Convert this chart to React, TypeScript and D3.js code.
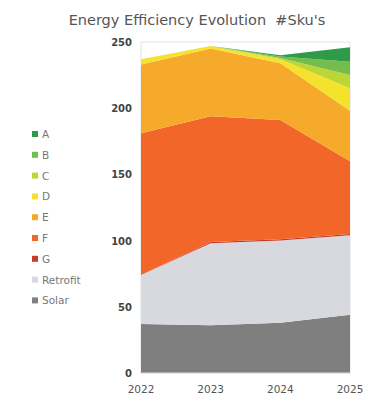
import React from "react";
import * as d3 from "d3";

const years = ["2022", "2023", "2024", "2025"];
const seriesNames = ["Solar", "Retrofit", "G", "F", "E", "D", "C", "B", "A"];
const solar = [37, 36, 38, 44];
const retrofit = [37, 62, 62, 60];
const gVals = [0, 1, 1, 1];
const fVals = [107, 95, 90, 55];
const eVals = [52, 51, 43, 38];
const dVals = [4, 2, 3, 17];
const cVals = [0, 0, 1, 10];
const bVals = [0, 0, 1, 10];
const aVals = [0, 0, 1, 11];
const yTicks = [0, 50, 100, 150, 200, 250];
const colors: Record<string, string> = {
  A: "#2f9a48",
  B: "#74bd4a",
  C: "#bdd636",
  D: "#f4e22c",
  E: "#f6aa2c",
  F: "#f2662a",
  G: "#c83a2a",
  Retrofit: "#d8d9de",
  Solar: "#7f7f80",
};
const legendNames = ["A", "B", "C", "D", "E", "F", "G", "Retrofit", "Solar"];

export default function App() {
  const W = 378, H = 404;
  const left = 141, right = 350, top = 42, bottom = 373;
  const x = d3.scalePoint<string>().domain(years).range([left, right]);
  const y = d3.scaleLinear().domain([0, 250]).range([bottom, top]);
  const valsMap: Record<string, number[]> = {
    Solar: solar, Retrofit: retrofit, G: gVals, F: fVals, E: eVals,
    D: dVals, C: cVals, B: bVals, A: aVals,
  };
  const table = years.map((yr, i) => {
    const row: any = { year: yr };
    seriesNames.forEach((s) => (row[s] = valsMap[s][i]));
    return row;
  });
  const stack = d3.stack<any>().keys(seriesNames)(table);
  const area = d3
    .area<any>()
    .x((d) => x(d.data.year) as number)
    .y0((d) => y(d[0]))
    .y1((d) => y(d[1]));
  const font = "'DejaVu Sans', sans-serif";
  return (
    <svg width={W} height={H} style={{ position: "absolute", left: 0, top: 0 }}>
      <rect width={W} height={H} fill="#fff" />
      <text x={197} y={25} textAnchor="middle" fontSize={14.5} fill="#555" fontFamily={font} xmlSpace="preserve">
        {"Energy Efficiency Evolution  #Sku's"}
      </text>
      <rect x={left} y={top} width={right - left} height={bottom - top} fill="none" stroke="#e4e4e4" strokeWidth={1} />
      {stack.map((s) => (
        <path key={s.key} d={area(s) || ""} fill={colors[s.key]} />
      ))}
      <line x1={left} x2={right} y1={bottom} y2={bottom} stroke="#ddd" />
      {yTicks.map((t) => (
        <text key={t} x={132} y={y(t) + 4} textAnchor="end" fontSize={10} fontWeight="bold" fill="#444" fontFamily={font}>
          {t}
        </text>
      ))}
      {years.map((yr) => (
        <text key={yr} x={x(yr) as number} y={393} textAnchor="middle" fontSize={10.5} fill="#555" fontFamily={font}>
          {yr}
        </text>
      ))}
      {legendNames.map((n, i) => (
        <g key={n} transform={`translate(32, ${134 + i * 20.8})`}>
          <rect x={0} y={-3} width={6} height={6} fill={colors[n]} />
          <text x={10} y={4} fontSize={10.5} fill="#777" fontFamily={font}>
            {n}
          </text>
        </g>
      ))}
    </svg>
  );
}
